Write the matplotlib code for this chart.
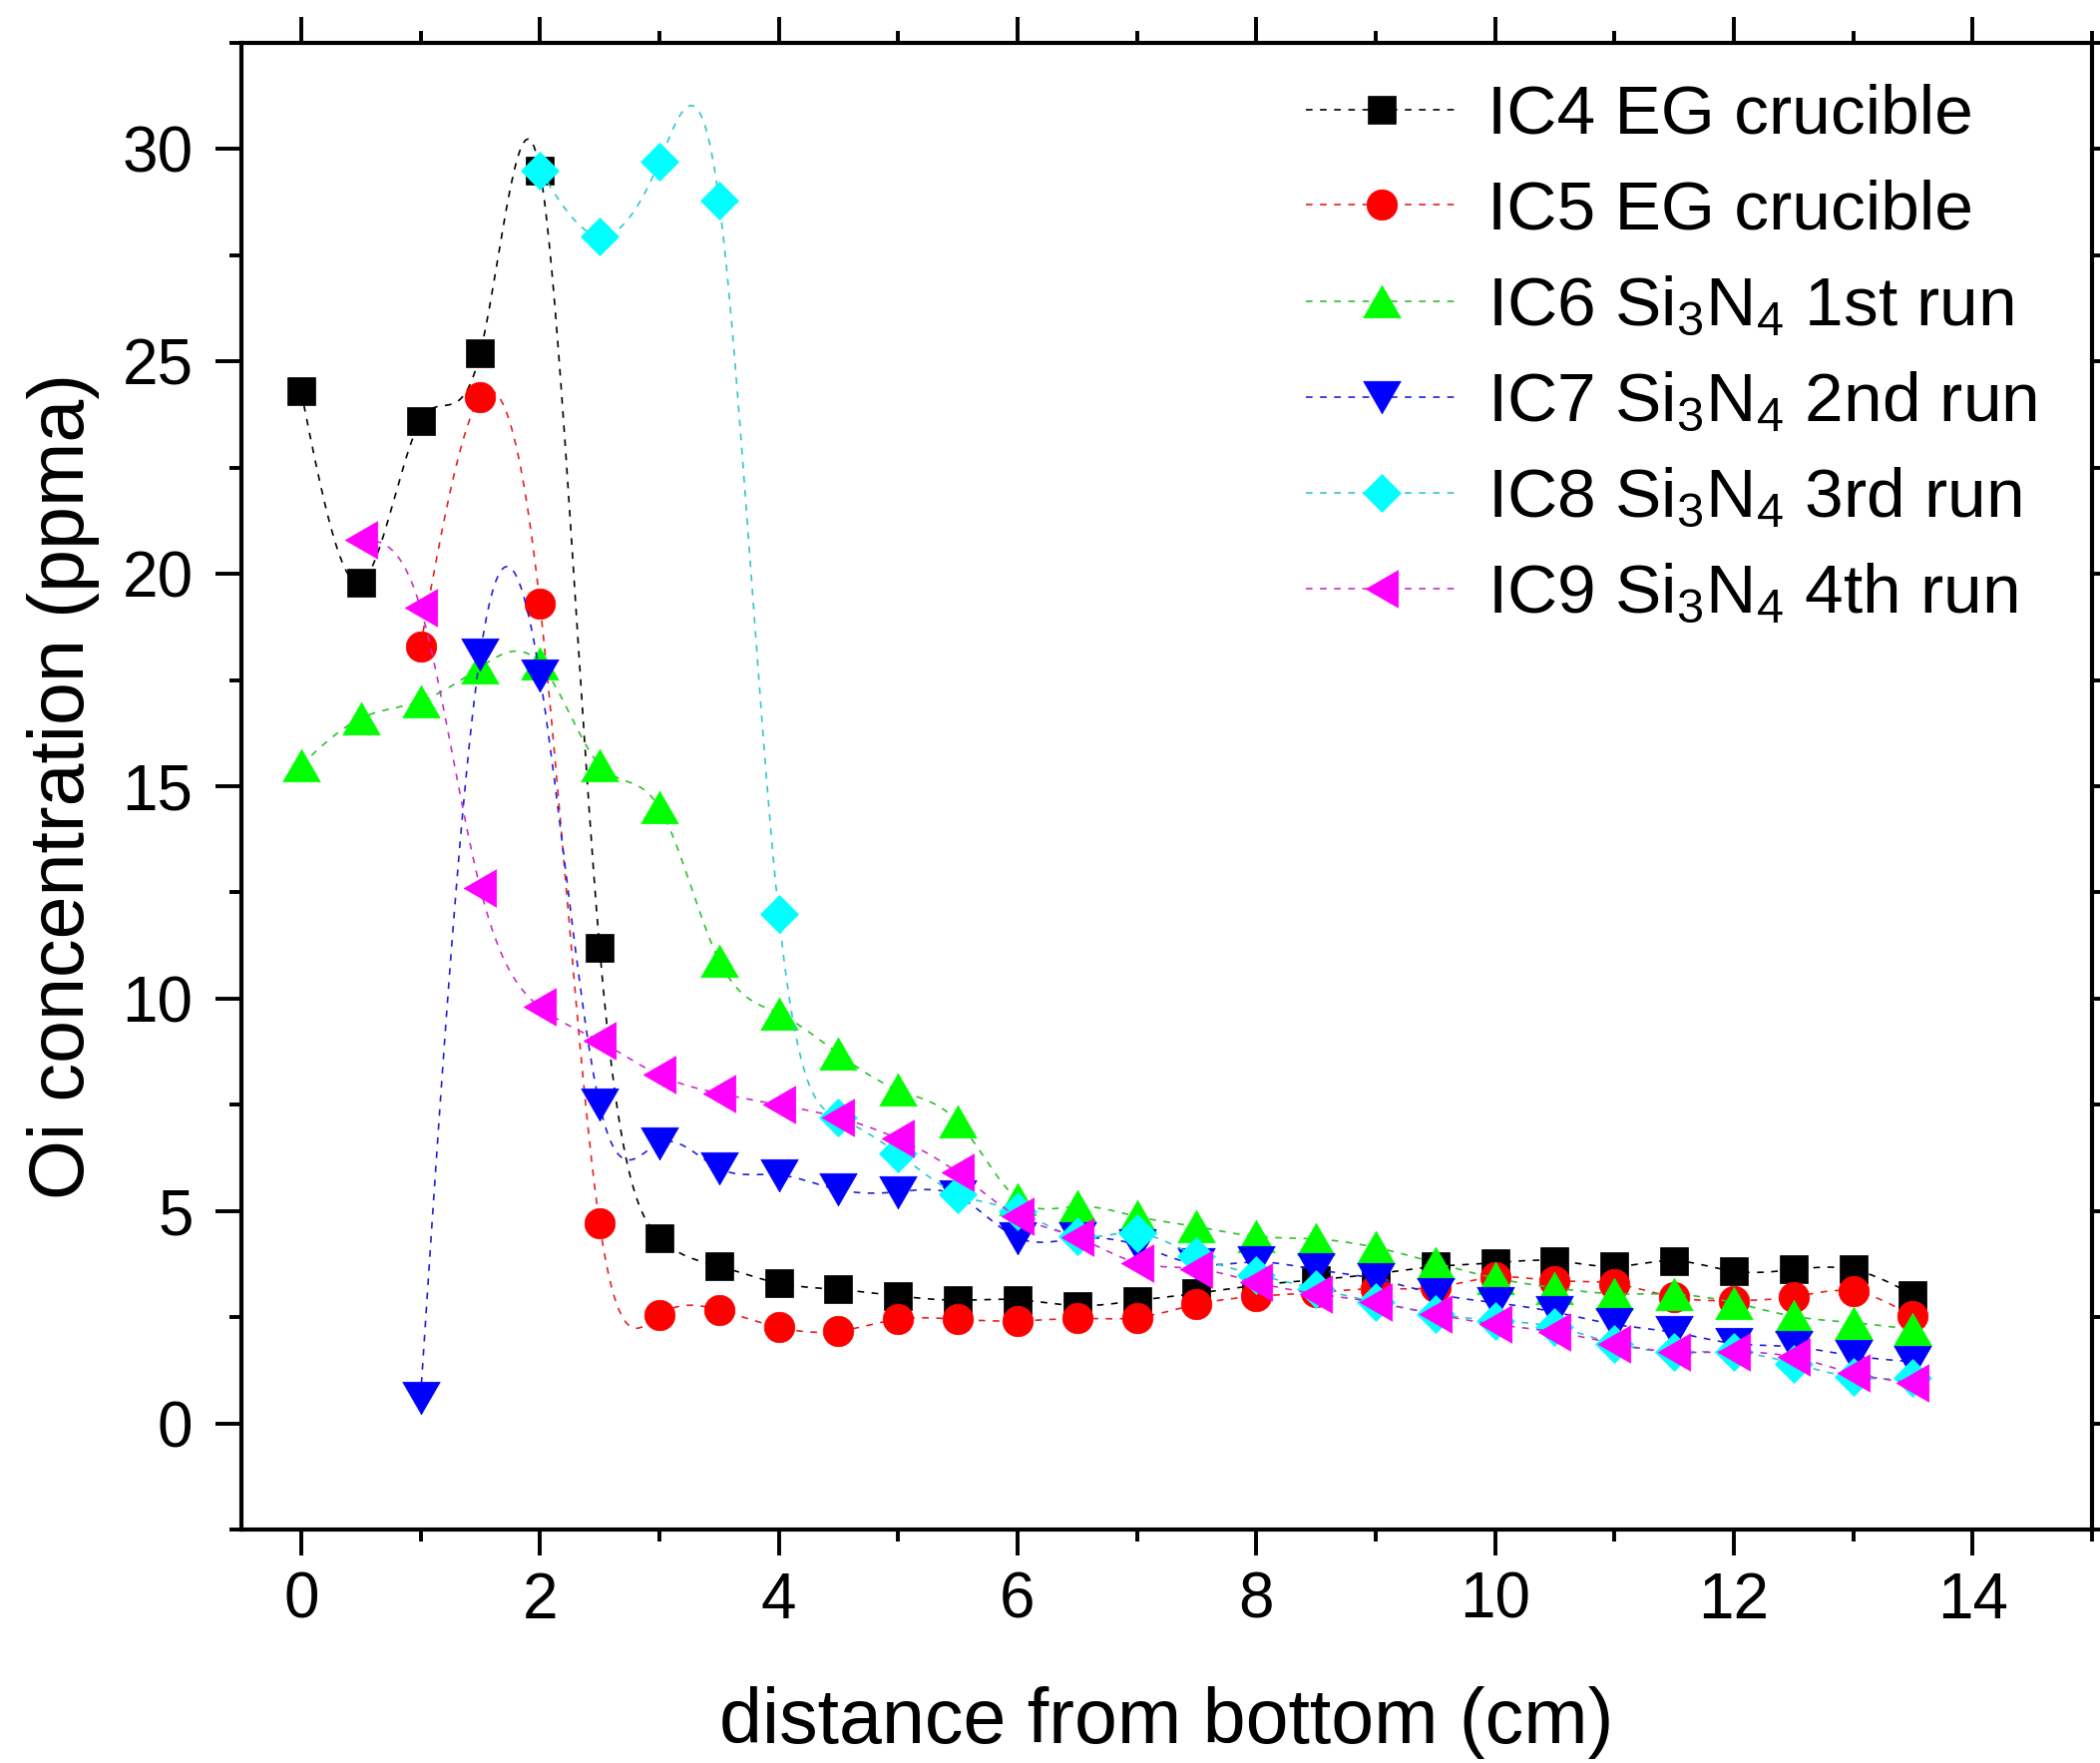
import numpy as np
import matplotlib
matplotlib.use("Agg")
import matplotlib.pyplot as plt
from matplotlib.lines import Line2D
from matplotlib.ticker import MultipleLocator

plt.rcParams["font.family"] = ["Liberation Sans", "DejaVu Sans"]
plt.rcParams["mathtext.fontset"] = "custom"
plt.rcParams["mathtext.rm"] = "Liberation Sans"
plt.rcParams["mathtext.default"] = "regular"

# ---- measured oxygen concentration (ppma) vs. distance from ingot bottom (cm)
x_ic4 = [0, 0.5, 1, 1.5, 2, 2.5, 3, 3.5, 4, 4.5, 5, 5.5, 6, 6.5, 7, 7.5,
         8, 8.5, 9, 9.5, 10, 10.5, 11, 11.5, 12, 12.5, 13, 13.5]
y_ic4 = [24.3, 19.8, 23.6, 25.2, 29.5, 11.2, 4.37, 3.7, 3.3, 3.15, 3.0, 2.9,
         2.91, 2.77, 2.89, 3.06, 3.25, 3.38, 3.52, 3.69, 3.78, 3.83, 3.69,
         3.83, 3.58, 3.62, 3.62, 3.03]

x_ic5 = [1, 1.5, 2, 2.5, 3, 3.5, 4, 4.5, 5, 5.5, 6, 6.5, 7, 7.5,
         8, 8.5, 9, 9.5, 10, 10.5, 11, 11.5, 12, 12.5, 13, 13.5]
y_ic5 = [18.3, 24.15, 19.3, 4.7, 2.55, 2.67, 2.26, 2.17, 2.45, 2.45, 2.41,
         2.47, 2.49, 2.80, 2.99, 3.08, 3.17, 3.2, 3.44, 3.36, 3.29, 2.97,
         2.89, 2.98, 3.11, 2.52]

x_ic6 = [0, 0.5, 1, 1.5, 2, 2.5, 3, 3.5, 4, 4.5, 5, 5.5, 6, 6.5, 7, 7.5,
         8, 8.5, 9, 9.5, 10, 10.5, 11, 11.5, 12, 12.5, 13, 13.5]
y_ic6 = [15.5, 16.6, 17.0, 17.8, 17.9, 15.5, 14.5, 10.9, 9.65, 8.7, 7.85,
         7.1, 5.28, 5.11, 4.87, 4.63, 4.40, 4.34, 4.14, 3.78, 3.42, 3.19,
         3.05, 3.04, 2.84, 2.52, 2.37, 2.21]

x_ic7 = [1, 1.5, 2, 2.5, 3, 3.5, 4, 4.5, 5, 5.5, 6, 6.5, 7, 7.5,
         8, 8.5, 9, 9.5, 10, 10.5, 11, 11.5, 12, 12.5, 13, 13.5]
y_ic7 = [0.6, 18.1, 17.6, 7.5, 6.6, 6.0, 5.85, 5.5, 5.45, 5.35, 4.37, 4.35,
         4.2, 3.75, 3.80, 3.62, 3.40, 3.05, 2.84, 2.62, 2.33, 2.14, 1.88,
         1.80, 1.59, 1.45]

x_ic8 = [2, 2.5, 3, 3.5, 4, 4.5, 5, 5.5, 6, 6.5, 7, 7.5,
         8, 8.5, 9, 9.5, 10, 10.5, 11, 11.5, 12, 12.5, 13, 13.5]
y_ic8 = [29.5, 27.95, 29.7, 28.8, 12.0, 7.2, 6.35, 5.4, 5.0, 4.40, 4.48,
         3.94, 3.50, 3.17, 2.85, 2.58, 2.42, 2.27, 1.88, 1.68, 1.68, 1.41,
         1.09, 1.06]

x_ic9 = [0.5, 1, 1.5, 2, 2.5, 3, 3.5, 4, 4.5, 5, 5.5, 6, 6.5, 7, 7.5,
         8, 8.5, 9, 9.5, 10, 10.5, 11, 11.5, 12, 12.5, 13, 13.5]
y_ic9 = [20.8, 19.2, 12.6, 9.8, 9.0, 8.2, 7.77, 7.5, 7.2, 6.7, 5.9, 4.88,
         4.38, 3.78, 3.64, 3.32, 3.05, 2.85, 2.57, 2.33, 2.15, 1.88, 1.68,
         1.68, 1.56, 1.18, 0.95]

labels = ["IC4 EG crucible", "IC5 EG crucible",
          r"IC6 Si$_3$N$_4$ 1st run", r"IC7 Si$_3$N$_4$ 2nd run",
          r"IC8 Si$_3$N$_4$ 3rd run", r"IC9 Si$_3$N$_4$ 4th run"]
xs = [x_ic4, x_ic5, x_ic6, x_ic7, x_ic8, x_ic9]
ys = [y_ic4, y_ic5, y_ic6, y_ic7, y_ic8, y_ic9]

# ---- styling
marker_colors = ["#000000", "#FF0000", "#00FF00", "#0000FF", "#00FFFF", "#FF00FF"]
line_colors = ["#000000", "#E82020", "#30C030", "#2020D8", "#30C8C8", "#C830C8"]
h = 0.866
tri_up = [(0, h), (-1, -h), (1, -h), (0, h)]
tri_down = [(0, -h), (-1, h), (1, h), (0, -h)]
tri_left = [(-h, 0), (h, 1), (h, -1), (-h, 0)]
markers = ["s", "o", tri_up, tri_down, "D", tri_left]
msizes = [19.5, 22, 27, 27, 19.5, 27]


def natural_cubic_spline(xk, yk, per_seg=40):
    """Evaluate a natural cubic spline through (xk, yk) on a dense grid."""
    xk = np.asarray(xk, float)
    yk = np.asarray(yk, float)
    n = len(xk)
    hk = np.diff(xk)
    A = np.zeros((n, n))
    b = np.zeros(n)
    A[0, 0] = A[-1, -1] = 1.0
    for i in range(1, n - 1):
        A[i, i - 1] = hk[i - 1]
        A[i, i] = 2 * (hk[i - 1] + hk[i])
        A[i, i + 1] = hk[i]
        b[i] = 6 * ((yk[i + 1] - yk[i]) / hk[i] - (yk[i] - yk[i - 1]) / hk[i - 1])
    M = np.linalg.solve(A, b)
    xs_out, ys_out = [], []
    for i in range(n - 1):
        t = np.linspace(xk[i], xk[i + 1], per_seg, endpoint=(i == n - 2))
        a = xk[i + 1] - t
        c = t - xk[i]
        s = (M[i] * a ** 3 + M[i + 1] * c ** 3) / (6 * hk[i]) \
            + (yk[i] / hk[i] - M[i] * hk[i] / 6) * a \
            + (yk[i + 1] / hk[i] - M[i + 1] * hk[i] / 6) * c
        xs_out.append(t)
        ys_out.append(s)
    return np.concatenate(xs_out), np.concatenate(ys_out)


fig = plt.figure(figsize=(21.05, 17.67), dpi=100)
ax = fig.add_axes([0.11496, 0.13243, 0.88124, 0.84324])

dash = (4, 4.5)
handles = []
for i, (xv, yv) in enumerate(zip(xs, ys)):
    sx, sy = natural_cubic_spline(xv, yv)
    ax.plot(sx, sy, color=line_colors[i], lw=1.2, dashes=dash, zorder=2 + 2 * i)
    ax.plot(xv, yv, ls="none", marker=markers[i], ms=msizes[i],
            mfc=marker_colors[i], mec=marker_colors[i], mew=0.5,
            zorder=3 + 2 * i)
    handles.append(Line2D([], [], color=line_colors[i], lw=1.2, dashes=dash,
                          marker=markers[i], ms=msizes[i],
                          mfc=marker_colors[i], mec=marker_colors[i], mew=0.5))

ax.set_xlim(-0.5, 15)
ax.set_ylim(-2.5, 32.5)
ax.xaxis.set_major_locator(MultipleLocator(2))
ax.xaxis.set_minor_locator(MultipleLocator(1))
ax.yaxis.set_major_locator(MultipleLocator(5))
ax.yaxis.set_minor_locator(MultipleLocator(2.5))

for sp in ax.spines.values():
    sp.set_linewidth(3)

ax.tick_params(which="both", direction="out", top=True, right=True,
               width=2.8, labelsize=46)
ax.tick_params(which="major", length=19)
ax.tick_params(which="minor", length=8.5)
ax.tick_params(axis="x", which="major", pad=11)
ax.tick_params(axis="y", which="major", pad=16)

ax.set_xlabel("distance from bottom (cm)", fontsize=55.5, labelpad=40)
ax.set_ylabel("Oi concentration (ppma)", fontsize=55.5, labelpad=16)

ax.legend(handles, labels, loc="upper left", bbox_to_anchor=(0.575, 0.9726),
          frameon=False, fontsize=50, handlelength=2.2, handletextpad=0.42,
          labelspacing=0.46, borderpad=0, borderaxespad=0, numpoints=1)

fig.savefig("out.png", dpi=100)
